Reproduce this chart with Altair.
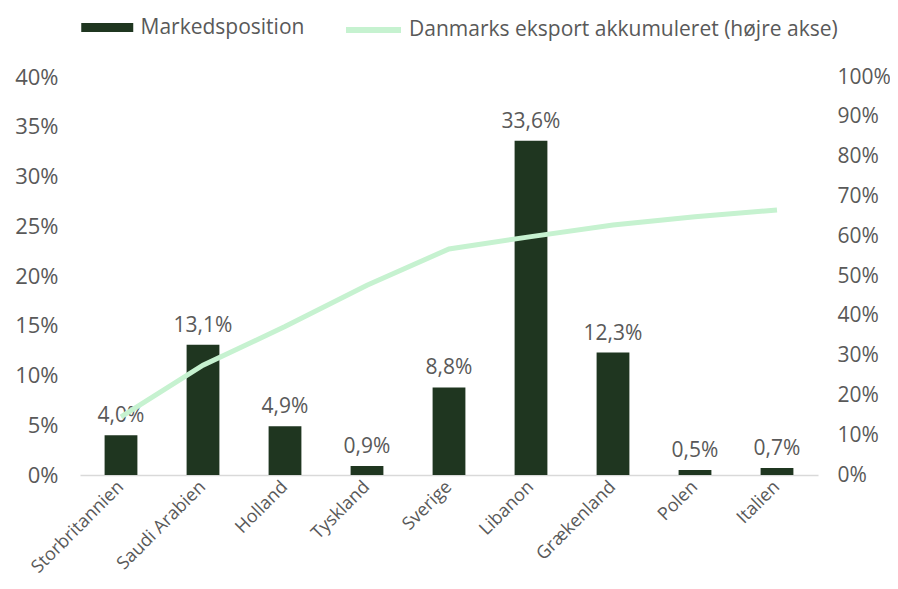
import altair as alt
import pandas as pd

lande = ["Storbritannien", "Saudi Arabien", "Holland", "Tyskland", "Sverige",
         "Libanon", "Grækenland", "Polen", "Italien"]
markedsposition = [4.0, 13.1, 4.9, 0.9, 8.8, 33.6, 12.3, 0.5, 0.7]
eksport_akk = [14.6, 27.6, 37.3, 47.7, 56.8, 59.9, 62.8, 64.9, 66.6]

bar_name = "Markedsposition"
line_name = "Danmarks eksport akkumuleret (højre akse)"

df = pd.DataFrame({
    "land": lande,
    "mp": markedsposition,
    "eks": eksport_akk,
    "s1": bar_name,
    "s2": line_name,
})

FONT = "Open Sans"
GRAY = "#595959"
DARK = "#1F3620"
LIGHT = "#C6F2D0"

x = alt.X("land:N", sort=lande, title=None,
          scale=alt.Scale(paddingInner=0.6, paddingOuter=0.3),
          axis=alt.Axis(labelAngle=-45, labelAlign="right", labelBaseline="middle",
                        labelFontSize=18, labelColor=GRAY, labelFont=FONT,
                        ticks=False, domainColor="#D9D9D9", domainWidth=1.5,
                        labelPadding=9, labelLimit=300))

bars = alt.Chart(df).mark_bar(color=DARK).encode(
    x=x,
    y=alt.Y("mp:Q", title=None, scale=alt.Scale(domain=[0, 40]),
            axis=alt.Axis(values=list(range(0, 41, 5)), labelExpr="datum.value + '%'",
                          grid=False, domain=False, ticks=False, labelPadding=22,
                          labelFontSize=22, labelColor=GRAY, labelFont=FONT)),
    color=alt.Color("s1:N", title=None,
                    scale=alt.Scale(domain=[bar_name], range=[DARK]),
                    legend=alt.Legend(orient="none", legendX=10.75, legendY=-66,
                                      symbolType="M-1.6,-0.28L1.6,-0.28L1.6,0.28L-1.6,0.28Z",
                                      symbolSize=1056, labelFontSize=21,
                                      labelColor=GRAY, labelFont=FONT, labelLimit=400,
                                      symbolStrokeWidth=0, labelOffset=16.75)),
)

labels = alt.Chart(df).transform_calculate(
    txt="replace(format(datum.mp, '.1f'), '.', ',') + '%'"
).mark_text(baseline="bottom", dy=-9, fontSize=21, color=GRAY, font=FONT).encode(
    x=alt.X("land:N", sort=lande),
    y=alt.Y("mp:Q"),
    text="txt:N",
)

left = alt.layer(bars, labels)

line = alt.Chart(df).mark_line(strokeWidth=5, color=LIGHT).encode(
    x=alt.X("land:N", sort=lande),
    y=alt.Y("eks:Q", title=None, scale=alt.Scale(domain=[0, 100]),
            axis=alt.Axis(orient="right", values=list(range(0, 101, 10)),
                          labelExpr="datum.value + '%'", grid=False, domain=False,
                          ticks=False, labelPadding=19, labelFontSize=21,
                          labelColor=GRAY, labelFont=FONT, labelAlign="left")),
    stroke=alt.Stroke("s2:N", title=None,
                      scale=alt.Scale(domain=[line_name], range=[LIGHT]),
                      legend=alt.Legend(orient="none", legendX=263, legendY=-77.5,
                                        symbolType="stroke", symbolStrokeWidth=6,
                                        symbolSize=3025, labelFontSize=21,
                                        labelColor=GRAY, labelFont=FONT,
                                        labelLimit=600, labelOffset=5)),
)

chart = alt.layer(left, line).resolve_scale(y="independent").properties(
    width=738, height=398,
    autosize=alt.AutoSizeParams(type="none"),
    padding={"left": 72, "top": 69, "right": 72, "bottom": 104},
).configure(font=FONT).configure_view(stroke=None)

chart.save("out.html", embed_options={"renderer": "svg", "actions": False})
